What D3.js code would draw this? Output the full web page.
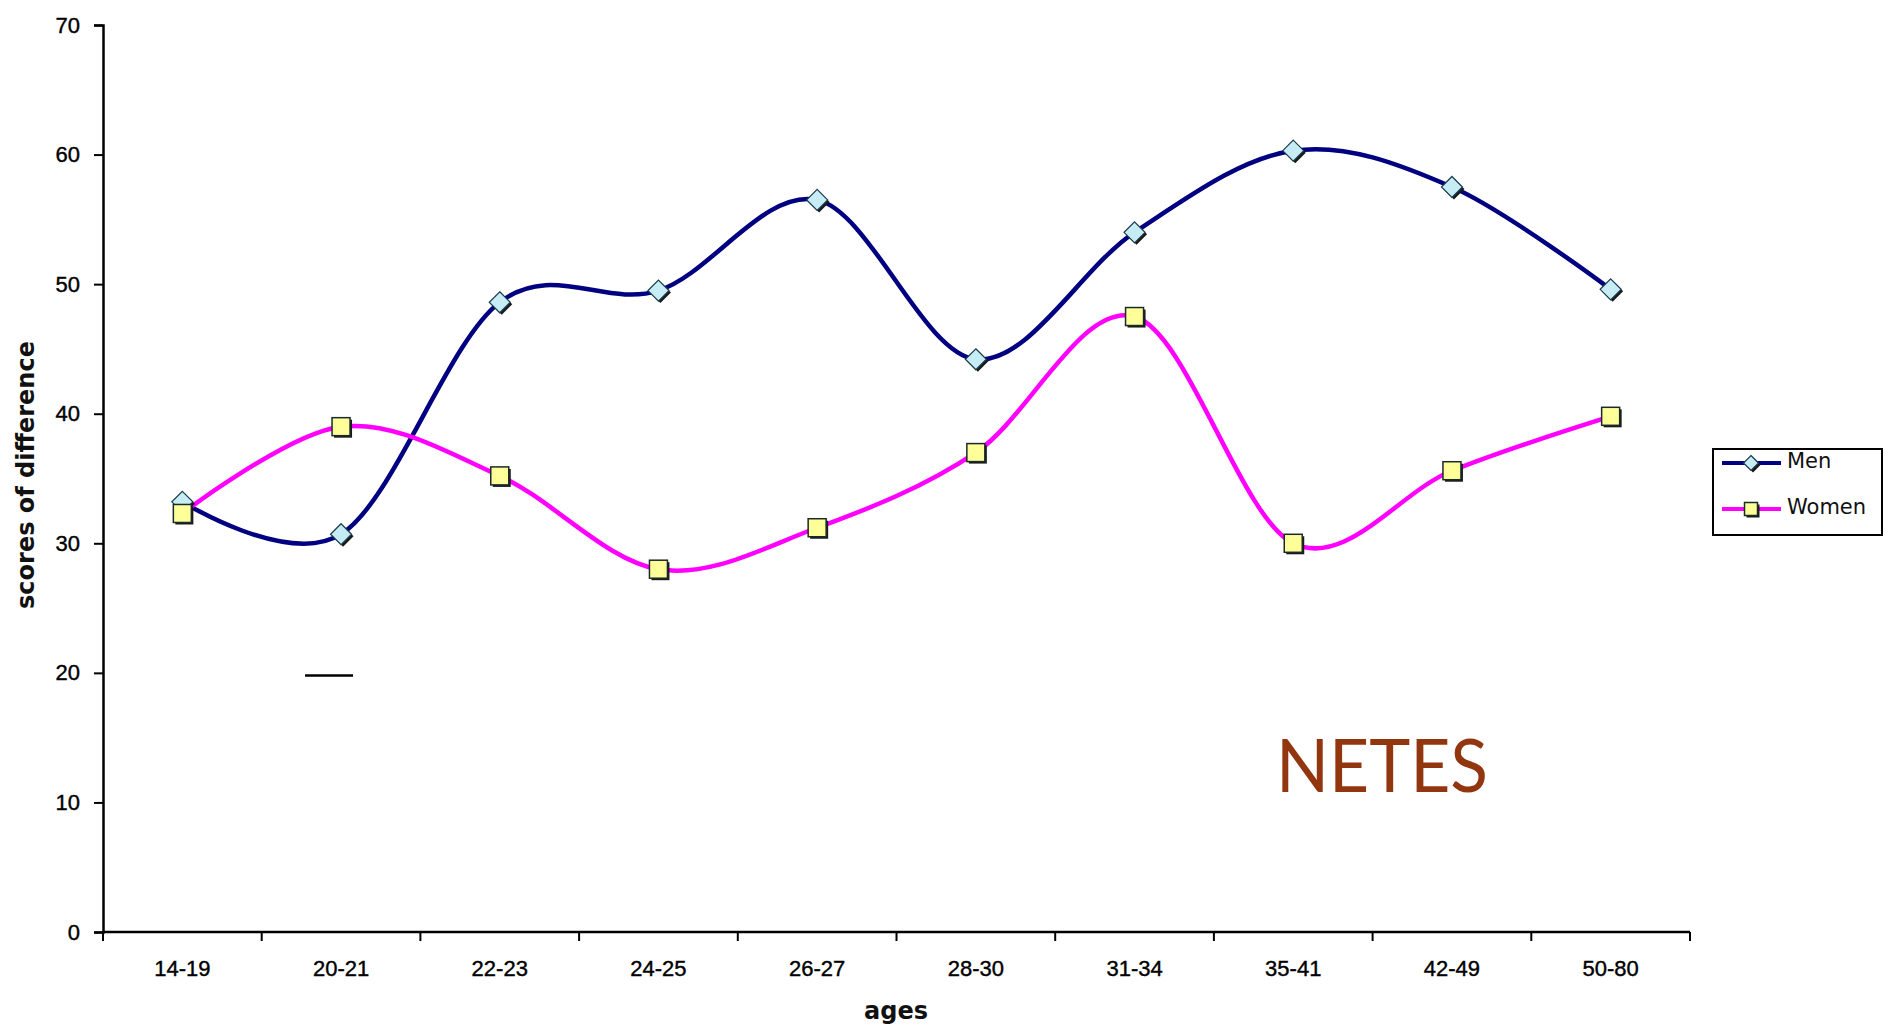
<!DOCTYPE html>
<html><head><meta charset="utf-8">
<script src="https://cdn.jsdelivr.net/npm/d3@7/dist/d3.min.js"></script>
<style>
html,body{margin:0;padding:0;background:#fff;}
svg{display:block;font-family:"Liberation Sans",Arial,sans-serif;}
.tl{font-family:"Liberation Sans",Arial,sans-serif;}
</style></head>
<body>
<svg id="chart" width="1891" height="1029"></svg>
<script>
const categories = ["14-19","20-21","22-23","24-25","26-27","28-30","31-34","35-41","42-49","50-80"];
const menValues = [33.2,30.7,48.6,49.5,56.5,44.2,54.0,60.3,57.5,49.6];
const womenValues = [32.3,39.0,35.2,28.0,31.2,37.0,47.5,30.0,35.6,39.8];
const yTicks = [0,10,20,30,40,50,60,70];
const seriesNames = ["Men","Women"];

(function(){
const svg = d3.select("#chart");
const mLeft = 103, mRight = 1690, mTop = 25, mBottom = 932;

const x = d3.scaleBand().domain(categories).range([mLeft, mRight]).padding(0);
const y = d3.scaleLinear().domain([0,70]).range([mBottom, mTop]);
const cx = c => x(c) + x.bandwidth()/2;

// y axis
const yAxis = svg.append("g").attr("transform",`translate(${mLeft},0)`)
  .call(d3.axisLeft(y).tickValues(yTicks).tickSize(9).tickPadding(14));
yAxis.attr("font-family",null);
yAxis.select(".domain").attr("stroke","#000").attr("stroke-width",2.5);
yAxis.selectAll(".tick line").attr("stroke","#000").attr("stroke-width",2);
yAxis.selectAll(".tick text").attr("class","tl").attr("font-size",22).attr("fill","#000")
  .attr("stroke","#000").attr("stroke-width",0.4);

// x axis with ticks at band boundaries
const xAxisG = svg.append("g").attr("transform",`translate(0,${mBottom})`);
xAxisG.append("line").attr("x1",mLeft).attr("x2",mRight).attr("stroke","#000").attr("stroke-width",2.5);
const bounds = categories.map(c => x(c)).concat([mRight]);
xAxisG.selectAll("line.tk").data(bounds).join("line").attr("class","tk")
  .attr("x1",d=>d).attr("x2",d=>d).attr("y1",0).attr("y2",9).attr("stroke","#000").attr("stroke-width",2);
xAxisG.selectAll("text").data(categories).join("text").attr("class","tl")
  .attr("x",d=>cx(d)).attr("y",44).attr("text-anchor","middle")
  .attr("font-size",22).attr("fill","#000").attr("stroke","#000").attr("stroke-width",0.4).text(d=>d);

// axis titles
svg.append("text").attr("transform",`translate(34,475) rotate(-90)`).attr("text-anchor","middle")
  .attr("font-family","DejaVu Sans, Verdana, sans-serif")
  .attr("font-size",24).attr("font-weight","bold").attr("fill","#111").text("scores of difference");
svg.append("text").attr("x",896).attr("y",1019).attr("text-anchor","middle")
  .attr("font-family","DejaVu Sans, Verdana, sans-serif")
  .attr("font-size",24).attr("font-weight","bold").attr("fill","#111").text("ages");

// stray dash
svg.append("line").attr("x1",cx("20-21")-36).attr("x2",cx("20-21")+12)
  .attr("y1",y(19.8)).attr("y2",y(19.8)).attr("stroke","#000").attr("stroke-width",2.5);

const line = d3.line().x((d,i)=>cx(categories[i])).y(d=>y(d)).curve(d3.curveCatmullRom.alpha(0));

svg.append("path").datum(menValues).attr("d",line).attr("fill","none").attr("stroke","#000080").attr("stroke-width",4.5);
svg.append("path").datum(womenValues).attr("d",line).attr("fill","none").attr("stroke","#ff00ff").attr("stroke-width",4.5);

function diamond(g, px, py, s){
  const h = s/2;
  g.append("path").attr("d",`M${px+2},${py-h+2}L${px+h+2},${py+2}L${px+2},${py+h+2}L${px-h+2},${py+2}Z`).attr("fill","#1a1a1a");
  g.append("path").attr("d",`M${px},${py-h}L${px+h},${py}L${px},${py+h}L${px-h},${py}Z`)
    .attr("fill","#c6ecf5").attr("stroke","#1a3a4a").attr("stroke-width",1.2);
}
function square(g, px, py, s){
  const h = s/2;
  g.append("rect").attr("x",px-h+2).attr("y",py-h+2).attr("width",s).attr("height",s).attr("fill","#1a1a1a");
  g.append("rect").attr("x",px-h).attr("y",py-h).attr("width",s).attr("height",s)
    .attr("fill","#ffff99").attr("stroke","#1a2a2a").attr("stroke-width",1.5);
}
const mg = svg.append("g");
menValues.forEach((v,i)=>diamond(mg, cx(categories[i]), y(v), 21));
const wg = svg.append("g");
womenValues.forEach((v,i)=>square(wg, cx(categories[i]), y(v), 18));

// legend
const lg = svg.append("g");
lg.append("rect").attr("x",1713).attr("y",449).attr("width",169).attr("height",86)
  .attr("fill","#fff").attr("stroke","#000").attr("stroke-width",2);
const rows = [{name:seriesNames[0],color:"#000080",y:463,mk:diamond,s:15},{name:seriesNames[1],color:"#ff00ff",y:509,mk:square,s:13}];
rows.forEach(r=>{
  lg.append("line").attr("x1",1722).attr("x2",1781).attr("y1",r.y).attr("y2",r.y).attr("stroke",r.color).attr("stroke-width",4);
  r.mk(lg,1751,r.y,r.s);
  lg.append("text").attr("x",1787).attr("y",r.y+5).attr("font-size",21)
    .attr("font-family","DejaVu Sans, Verdana, sans-serif").attr("fill","#111").text(r.name);
});

// watermark
svg.append("text").attr("x",1276).attr("y",792).attr("font-size",73).attr("fill","#923610")
  .attr("font-family","Lato, 'Open Sans', sans-serif").attr("textLength",212).attr("lengthAdjust","spacingAndGlyphs").text("NETES");
})();
</script>
</body></html>
